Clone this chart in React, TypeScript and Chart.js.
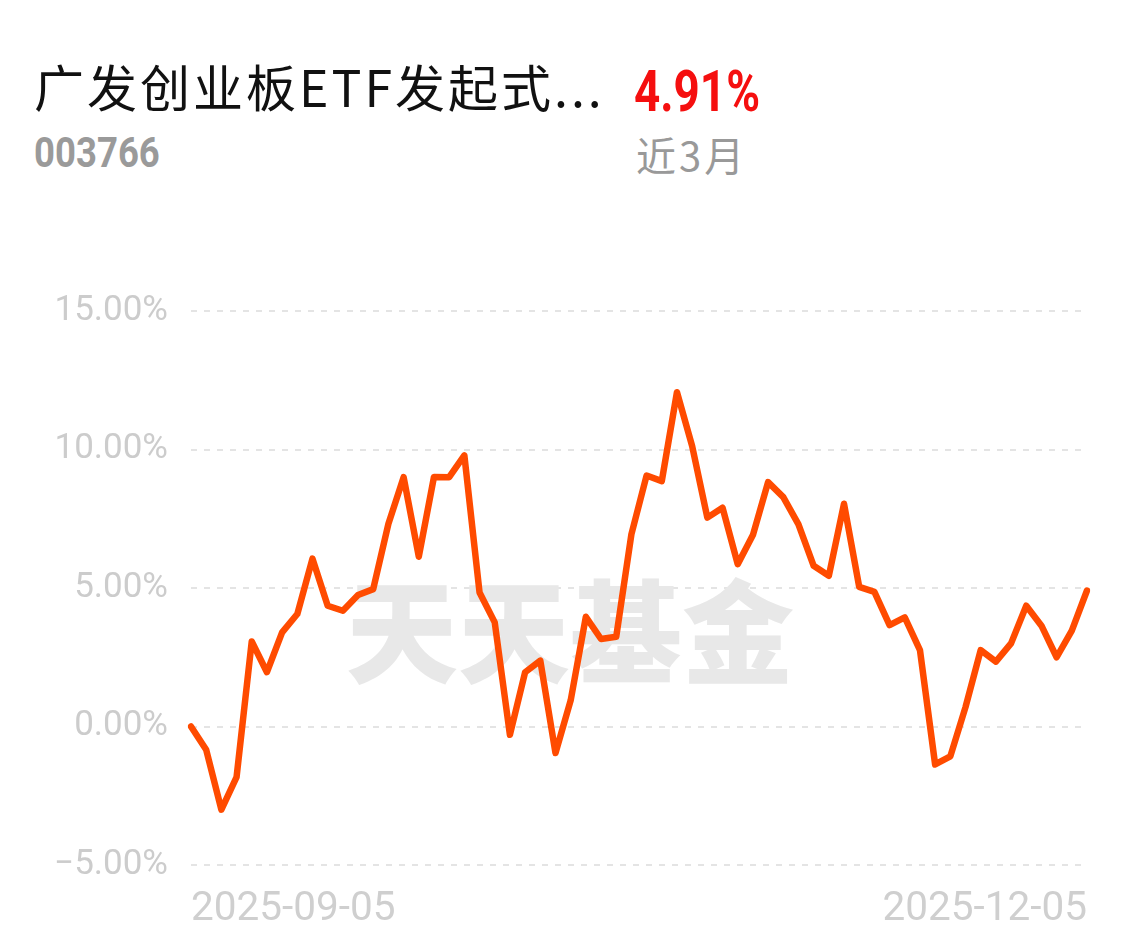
import React, { useEffect, useRef } from "react";
import { Chart, registerables } from "chart.js";

Chart.register(...registerables);

// ---- data ----
const FUND_NAME = "广发创业板ETF发起式...";
const FUND_CODE = "003766";
const PERIOD_RETURN = "4.91%";
const PERIOD_LABEL = "近3月";
const WATERMARK = "天天基金";

const SEP_DAYS = ["05", "08", "09", "10", "11", "12", "15", "16", "17", "18", "19", "22", "23", "24", "25", "26", "29", "30"];
const OCT_DAYS = ["09", "10", "13", "14", "15", "16", "17", "20", "21", "22", "23", "24", "27", "28", "29", "30", "31"];
const NOV_DAYS = ["03", "04", "05", "06", "07", "10", "11", "12", "13", "14", "17", "18", "19", "20", "21", "24", "25", "26", "27", "28"];
const DEC_DAYS = ["01", "02", "03", "04", "05"];

const RETURNS = [
  0.0, -0.84, -3.0, -1.83, 3.07, 1.96, 3.4, 4.06, 6.06, 4.36,
  4.18, 4.75, 4.96, 7.32, 9.0, 6.13, 9.01, 9.0, 9.79, 4.84,
  3.76, -0.3, 1.96, 2.38, -0.96, 0.94, 3.96, 3.16, 3.24, 6.94,
  9.06, 8.86, 12.07, 10.12, 7.54, 7.9, 5.86, 6.91, 8.82, 8.28,
  7.3, 5.8, 5.44, 8.04, 5.04, 4.86, 3.66, 3.94, 2.76, -1.37,
  -1.08, 0.7, 2.76, 2.34, 3.0, 4.36, 3.64, 2.5, 3.46, 4.91,
];

const Y_MIN = -5;
const Y_MAX = 15;
const Y_STEP = 5;

const DATES = [
  ...SEP_DAYS.map((d) => `2025-09-${d}`),
  ...OCT_DAYS.map((d) => `2025-10-${d}`),
  ...NOV_DAYS.map((d) => `2025-11-${d}`),
  ...DEC_DAYS.map((d) => `2025-12-${d}`),
];

const watermarkPlugin = {
  id: "watermark",
  beforeDatasetsDraw(chart: any) {
    const { ctx, chartArea } = chart;
    const x = chartArea.left + (chartArea.right - chartArea.left) * 0.423;
    const y = chartArea.top + (chartArea.bottom - chartArea.top) * 0.58;
    ctx.save();
    ctx.font = '900 112px "Noto Sans CJK SC"';
    ctx.fillStyle = "#e8e8e8";
    ctx.textAlign = "center";
    ctx.textBaseline = "middle";
    ctx.fillText(WATERMARK, x, y);
    ctx.restore();
  },
};

export default function App() {
  const canvasRef = useRef<HTMLCanvasElement | null>(null);

  useEffect(() => {
    let chart: Chart | null = null;
    let cancelled = false;
    const make = () => {
      if (cancelled || !canvasRef.current) return;
      const n = DATES.length;
      chart = new Chart(canvasRef.current, {
        type: "line",
        data: {
          labels: DATES,
          datasets: [
            {
              data: RETURNS,
              borderColor: "#ff4b00",
              borderWidth: 6.5,
              pointRadius: 0,
              pointHoverRadius: 0,
              tension: 0,
              borderJoinStyle: "round",
              borderCapStyle: "round",
              fill: false,
            },
          ],
        },
        options: {
          responsive: false,
          animation: false,
          layout: { padding: { top: 311, right: 51, left: 0, bottom: 0 } },
          plugins: { legend: { display: false }, tooltip: { enabled: false } },
          scales: {
            x: {
              type: "category",
              offset: false,
              grid: { display: false, drawTicks: false },
              border: { display: false },
              afterFit: (scale: any) => {
                scale.height = 85;
              },
              ticks: {
                autoSkip: false,
                maxRotation: 0,
                minRotation: 0,
                align: "inner",
                padding: 21,
                color: "#cfcfcf",
                font: { family: "Roboto", size: 40.5 },
                callback: (_v: any, i: number) => (i === 0 || i === n - 1 ? DATES[i] : ""),
              },
            },
            y: {
              min: Y_MIN,
              max: Y_MAX,
              grid: { color: "#e4e4e4", lineWidth: 2, drawTicks: false },
              border: { display: false, dash: [6, 7] },
              afterFit: (scale: any) => {
                scale.width = 191;
              },
              ticks: {
                stepSize: Y_STEP,
                padding: 23,
                color: "#cccccc",
                font: { family: "Roboto", size: 35 },
                callback: (v: any) => `${Number(v).toFixed(2)}%`.replace("-", "\u2212"),
              },
            },
          },
        },
        plugins: [watermarkPlugin],
      });
    };
    const fonts = (document as any).fonts;
    if (fonts && fonts.load) {
      Promise.all([
        fonts.load('900 112px "Noto Sans CJK SC"', WATERMARK),
        fonts.load('40px "Roboto"', "2025"),
      ])
        .catch(() => {})
        .then(make);
    } else {
      make();
    }
    return () => {
      cancelled = true;
      if (chart) chart.destroy();
    };
  }, []);

  return (
    <div style={{ position: "absolute", top: 0, left: 0, width: 1138, height: 950, background: "#fff", overflow: "hidden" }}>
      <div
        style={{
          position: "absolute",
          left: 34,
          top: 60,
          fontFamily: '"Noto Sans CJK SC"',
          fontSize: 50,
          lineHeight: 1,
          letterSpacing: 3,
          color: "#111",
          whiteSpace: "nowrap",
        }}
      >
        {FUND_NAME}
      </div>
      <div
        style={{
          position: "absolute",
          left: 634,
          top: 62,
          fontFamily: "Roboto",
          fontWeight: 700,
          fontSize: 58,
          lineHeight: 1,
          color: "#f50f0f",
          whiteSpace: "nowrap",
          transform: "scaleX(0.79)",
          transformOrigin: "left top",
        }}
      >
        {PERIOD_RETURN}
      </div>
      <div
        style={{
          position: "absolute",
          left: 34,
          top: 131,
          fontFamily: "Roboto",
          fontWeight: 700,
          fontSize: 43,
          lineHeight: 1,
          color: "#9a9a9a",
          whiteSpace: "nowrap",
          transform: "scaleX(0.85)",
          transformOrigin: "left top",
        }}
      >
        {FUND_CODE}
      </div>
      <div
        style={{
          position: "absolute",
          left: 636,
          top: 134,
          fontFamily: '"Noto Sans CJK SC"',
          fontSize: 40,
          lineHeight: 1,
          letterSpacing: 3,
          color: "#999",
          whiteSpace: "nowrap",
        }}
      >
        {PERIOD_LABEL}
      </div>
      <canvas ref={canvasRef} width={1138} height={950} style={{ position: "absolute", left: 0, top: 0, display: "block" }} />
    </div>
  );
}
